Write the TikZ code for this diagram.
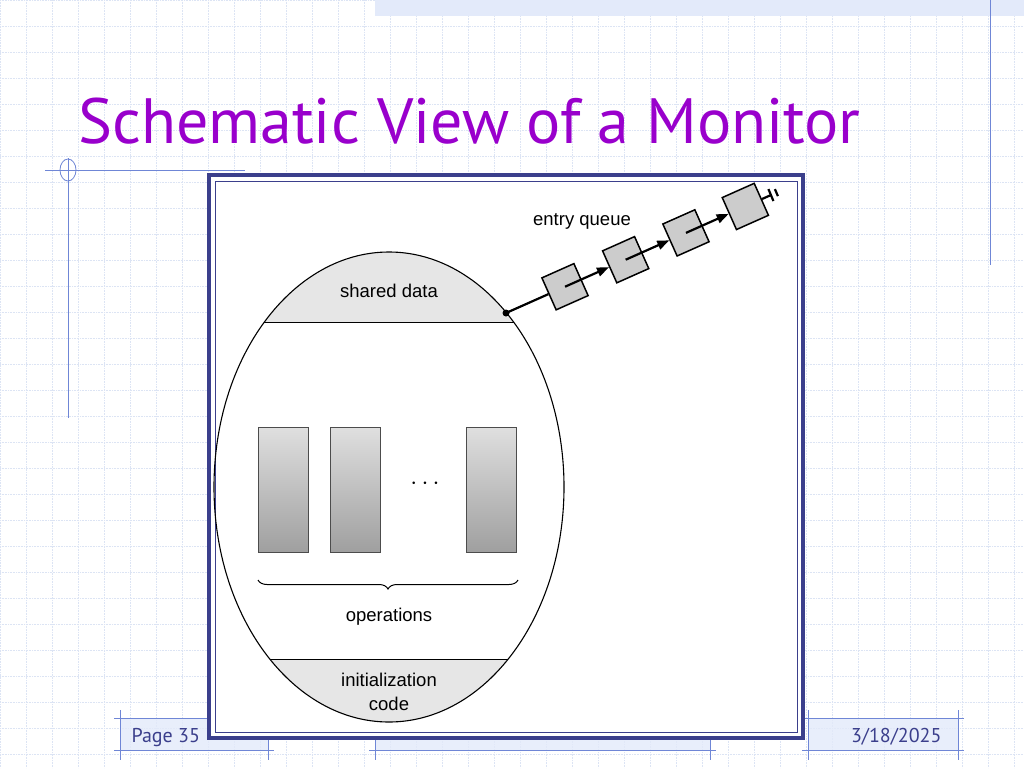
\documentclass[tikz,border=0pt]{standalone}
\usepackage{fontspec}
\setmainfont{Liberation Sans}
\newfontfamily\titlefont{PT Sans}
\usetikzlibrary{decorations.pathreplacing,arrows.meta,calc}
\definecolor{ttl}{HTML}{9900CC}
\definecolor{navy}{HTML}{3B3F8C}
\definecolor{gridc}{HTML}{DCE4F4}
\definecolor{bandc}{HTML}{E3EAFA}
\definecolor{decoc}{HTML}{6F86D6}
\definecolor{capc}{HTML}{E6E6E6}
\tikzset{
  qbox/.style={draw=black,line width=1.5pt,fill=gray!40,minimum size=35pt,inner sep=0pt,rotate=24},
  lbl/.style={font=\fontsize{18.5}{24}\selectfont,align=center},
  foot/.style={font=\titlefont\fontsize{20}{22}\selectfont,text=navy},
  opbox/.style={draw=black!70,line width=0.5pt,top color=gray!25,bottom color=gray!75},
  qline/.style={line width=2.2pt}
}
\begin{document}
\begin{tikzpicture}[x=1pt,y=-1pt]
\useasboundingbox (0,0) rectangle (1024,768);
\fill[white] (0,0) rectangle (1024,768);
% grid
\foreach \x in {0,26,...,1024} \draw[gridc,densely dotted,line width=0.6pt] (\x,0) -- (\x,768);
\foreach \y in {0,26,...,768} \draw[gridc,densely dotted,line width=0.6pt] (0,\y) -- (1024,\y);
% top band & deco
\fill[bandc] (375,0) rectangle (1024,16);
\draw[decoc,line width=0.8pt] (990,0) -- (990,265);
\draw[decoc,line width=0.8pt] (45,170) -- (245,170);
\draw[decoc,line width=0.8pt] (68,158) -- (68,418);
\draw[decoc,line width=0.8pt] (68,170) ellipse (8 and 11);
% footer bands
\foreach \a/\b in {120/268,375/710,808/958}{
  \fill[bandc,opacity=0.8] (\a,718) rectangle (\b,750);
  \draw[decoc,line width=0.7pt] (\a-6,718) -- (\b+6,718) (\a-6,750) -- (\b+6,750);
  \draw[decoc,line width=0.7pt] (\a,710) -- (\a,760) (\b,710) -- (\b,760);
}
\node[foot,anchor=base west] (pg) at (128,742) {Page 35};
\node[foot,anchor=base east] (dt) at (945,742) {3/18/2025};
% title
\node[anchor=base west,inner sep=0pt,text=ttl,font=\titlefont\fontsize{64}{72}\selectfont] (title) at (78,143) {Schematic View of a Monitor};
% frame
\fill[white] (207,173) rectangle (805,740);
\draw[navy,line width=3.5pt] (209,175) rectangle (803,738);
\draw[navy,line width=0.8pt] (215,181) rectangle (797,732);
% monitor ellipse
\begin{scope}
\clip (389,487) ellipse (175 and 235);
\fill[capc] (200,240) rectangle (580,322);
\fill[capc] (200,659) rectangle (580,730);
\draw[line width=0.9pt] (200,322) -- (580,322) (200,659) -- (580,659);
\end{scope}
\draw[line width=1.1pt] (389,487) ellipse (175 and 235);
\node[lbl] (sd) at (389,291) {shared data};
\node[lbl] (ic) at (389,692) {initialization\\code};
\foreach \x/\n in {258/o1,330/o2,466/o3}
  \draw[opbox] (\x,427) rectangle (\x+50,552);
\node[font=\fontsize{34}{34}\selectfont] (dots) at (425,484) {$\cdots$};
\draw[decorate,decoration={brace,amplitude=9pt,mirror},line width=1pt] (258,580) -- (518,580);
\node[lbl] (ops) at (389,617) {operations};
% entry queue
\coordinate (d) at (506,313);
\fill (d) circle (3.5);
\node[lbl] (eq) at (582,221) {entry queue};
\foreach \i/\t in {1/64.6,2/131,3/197,4/262}
  \node[qbox] (q\i) at ($(d)+(\t*0.9135,-\t*0.4067)$) {};
\coordinate (e) at ($(d)+(290*0.9135,-290*0.4067)$);
\draw[qline] (d) -- (q1);
\foreach \i/\j in {1/2,2/3,3/4}
  \draw[qline,-{Triangle[length=12pt,width=9pt]}] (q\i.center) -- (q\j);
\draw[qline] (q4) -- (e);
\draw[qline] ($(e)+(-2.5,-6)$) -- ($(e)+(2.5,6)$);
\draw[qline] ($(e)+(6*0.9135-1.5,-6*0.4067-3.5)$) -- ($(e)+(6*0.9135+1.5,-6*0.4067+3.5)$);
\end{tikzpicture}
\end{document}
